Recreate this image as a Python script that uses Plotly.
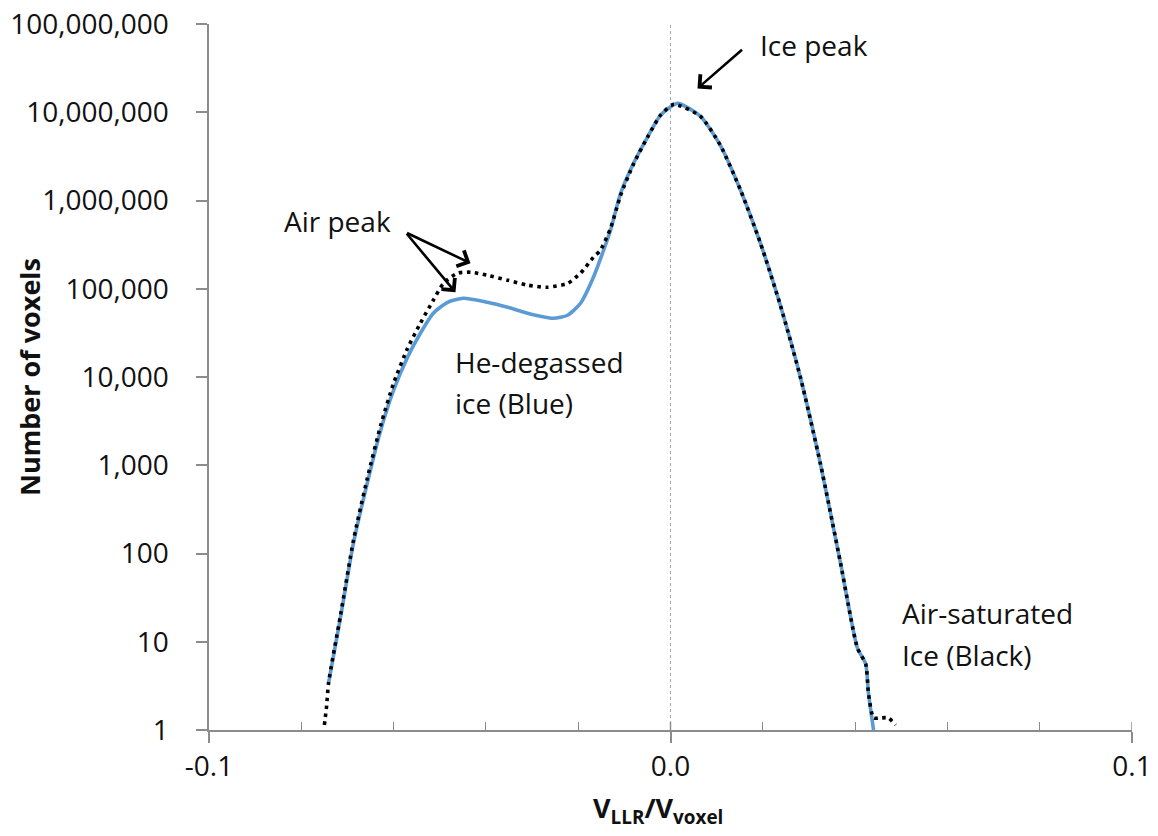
import plotly.graph_objects as go

# ---- data ----
x_blue = [-0.0741, -0.0715, -0.0687, -0.0657, -0.0628, -0.0600, -0.0570, -0.0542,
          -0.0514, -0.0483, -0.0449, -0.0397, -0.0353, -0.0310, -0.0254, -0.0223,
          -0.0195, -0.0167, -0.0145, -0.0130, -0.0108, -0.0080, -0.0050, -0.0022,
          0.0015, 0.0065, 0.0108, 0.0152, 0.0195, 0.0238, 0.0282, 0.0325,
          0.0368, 0.0405, 0.0423, 0.0429, 0.0440]
y_blue = [3.4, 19, 131, 630, 2500, 7100, 16700, 31300,
          52800, 70300, 78000, 70300, 61700, 52800, 46300, 50100,
          68500, 135000, 273000, 460000, 1210000, 2640000, 5200000, 9200000,
          12600000, 8980000, 4220000, 1300000, 327000, 65000, 9690, 1030,
          80, 8.5, 5.6, 2.6, 1.0]

x_black = [-0.0750, -0.0745, -0.0741, -0.0715, -0.0687, -0.0657, -0.0628, -0.0600,
           -0.0570, -0.0542, -0.0514, -0.0492, -0.0462, -0.0433, -0.0397, -0.0353,
           -0.0310, -0.0267, -0.0223, -0.0195, -0.0167, -0.0152, -0.0130, -0.0108,
           -0.0080, -0.0050, -0.0022, 0.0007, 0.0065, 0.0108, 0.0152, 0.0195,
           0.0238, 0.0282, 0.0325, 0.0368, 0.0405, 0.0423, 0.0429, 0.0440,
           0.0455, 0.0472, 0.0488]
y_black = [1.14, 1.9, 3.4, 20, 141, 710, 2830, 8500,
           21000, 40700, 74100, 115000, 150000, 154000, 142000, 125000,
           110000, 104000, 115000, 150000, 227000, 273000, 484000, 1150000,
           2600000, 5200000, 9200000, 12300000, 8980000, 4220000, 1300000, 327000,
           65000, 9690, 1030, 80, 8.5, 5.6, 2.6, 1.37,
           1.37, 1.37, 1.14]

y_tickvals = [1, 10, 100, 1000, 10000, 100000, 1000000, 10000000, 100000000]
y_ticktext = ["1", "10", "100", "1,000", "10,000", "100,000", "1,000,000",
              "10,000,000", "100,000,000"]
x_tickvals = [-0.1, 0.0, 0.1]
x_ticktext = ["-0.1", "0.0", "0.1"]
x_minorvals = [-0.08, -0.06, -0.04, -0.02, 0.02, 0.04, 0.06, 0.08]

FONT = "Open Sans"
FS = 28
AXC = "#8c8c8c"
PAD = "\u00a0\u00a0\u00a0"

fig = go.Figure()
fig.add_trace(go.Scatter(x=x_blue, y=y_blue, mode="lines",
                         line=dict(color="#5b9bd5", width=3.6, shape="spline", smoothing=0.6),
                         showlegend=False, hoverinfo="skip"))
fig.add_trace(go.Scatter(x=x_black, y=y_black, mode="lines",
                         line=dict(color="black", width=3.6, dash="3.5px,4.5px", shape="spline", smoothing=0.6),
                         showlegend=False, hoverinfo="skip"))

fig.update_layout(
    width=1158, height=836,
    margin=dict(l=209, r=26, t=24, b=106, autoexpand=False),
    paper_bgcolor="white", plot_bgcolor="white",
    font=dict(family=FONT, size=FS, color="#111"),
    xaxis=dict(range=[-0.1, 0.1], tickmode="array", tickvals=x_tickvals, ticktext=x_ticktext,
               automargin=False,
               showgrid=False, zeroline=False, showline=True, linecolor=AXC, linewidth=1.5,
               ticks="outside", ticklen=11, tickcolor=AXC, tickwidth=1.5,
               tickfont=dict(family=FONT, size=FS, color="#111"),
               minor=dict(tickmode="array", tickvals=x_minorvals, ticks="inside", ticklen=8,
                          tickcolor=AXC, tickwidth=1.2, showgrid=False)),
    yaxis=dict(type="log", range=[0, 8], tickmode="array", tickvals=y_tickvals,
               ticktext=[t + PAD for t in y_ticktext], automargin=False,
               showgrid=False, zeroline=False, showline=True, linecolor=AXC, linewidth=1.5,
               ticks="outside", ticklen=11, tickcolor=AXC, tickwidth=1.5,
               tickfont=dict(family=FONT, size=FS, color="#111")),
)

# vertical dotted line at zero and inner halves of major x ticks
fig.add_shape(type="line", xref="x", yref="paper", x0=0, x1=0, y0=0, y1=1,
              line=dict(color="#a6a6a6", width=1, dash="dot"))
for xv in [0.0, 0.1]:
    fig.add_shape(type="line", xref="x", yref="paper", ysizemode="pixel", yanchor=0,
                  x0=xv, x1=xv, y0=0, y1=8, line=dict(color=AXC, width=1.5))

# axis titles
fig.add_annotation(xref="paper", yref="paper", x=-0.195, y=0.5, textangle=-90,
                   text="<b>Number of voxels</b>", showarrow=False,
                   font=dict(family=FONT, size=27, color="#111"), xanchor="center", yanchor="middle")
fig.add_annotation(xref="paper", yref="paper", x=0.486, y=-0.112,
                   text="<b>V<sub>LLR</sub>/V<sub>voxel</sub></b>", showarrow=False,
                   font=dict(family=FONT, size=27, color="#111"), xanchor="center", yanchor="middle")

# text labels
labels = [
    ("Ice peak", 0.0190, 7.758),
    ("Air peak", -0.0841, 5.764),
    ("He-degassed", -0.0472, 4.168),
    ("ice (Blue)", -0.0472, 3.703),
    ("Air-saturated", 0.0498, 1.325),
    ("Ice (Black)", 0.0498, 0.849),
]
for t, xx, yy in labels:
    fig.add_annotation(x=xx, y=yy, text=t, showarrow=False, xanchor="left", yanchor="middle",
                       font=dict(family=FONT, size=FS, color="#111"))

# arrows (tip, tail)
arrows = [
    (0.00585, 7.270, 0.01582, 7.724),
    (-0.04334, 5.289, -0.05742, 5.640),
    (-0.04659, 4.960, -0.05742, 5.640),
]
for tx, ty, sx, sy in arrows:
    fig.add_annotation(x=tx, y=ty, ax=sx, ay=sy, xref="x", yref="y", axref="x", ayref="y",
                       text="", showarrow=True, arrowhead=4, arrowsize=1.3, arrowwidth=2.6,
                       arrowcolor="black")

fig.write_html("out.html")
